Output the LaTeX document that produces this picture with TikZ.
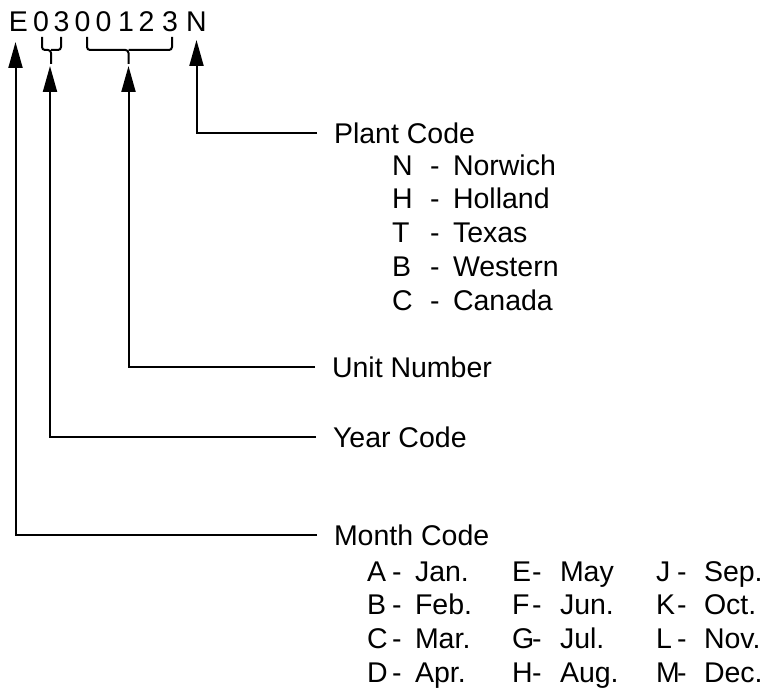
\documentclass[tikz,border=0pt]{standalone}
\usepackage{fontspec}
\setmainfont{Liberation Sans}
\usetikzlibrary{arrows.meta}
\begin{document}
\begin{tikzpicture}[x=1pt,y=-1pt,line width=2pt,
		every node/.style = {inner sep=0pt, font=\fontsize{28.5}{34}\selectfont},
		codechar/.style={font=\fontsize{28.5}{34}\selectfont, text height=20pt, text depth=0pt},
		fieldlabel/.style={anchor=west, inner xsep=16pt, text height=20pt, text depth=0pt},
		listitem/.style={anchor=base west},
		codearrow/.style={-{Triangle[length=26pt,width=14pt]}},
		codebrace/.style={rounded corners=3pt}]
		\useasboundingbox (0,0) rectangle (765,690);
		% the serial code
		\foreach \ch/\x [count=\i] in {E/18.5,0/41,3/61.5,0/82.5,0/103.5,1/126,2/146.5,3/170,N/196.5}
			\node[codechar] (c\i) at (\x,22) {\ch};
		\coordinate (yearend) at (51,64);
		\coordinate (unitend) at (128.5,64);
		\draw[codebrace] (42,37) |- (51,50) -- (yearend);
		\draw[codebrace] (61,37) |- (51,50);
		\draw[codebrace] (87,37) |- (128.5,50) -- (unitend);
		\draw[codebrace] (172,37) |- (128.5,50);
		% field labels
		\node[fieldlabel] (plant) at (317,133) {Plant Code};
		\node[fieldlabel] (unit) at (315,367) {Unit Number};
		\node[fieldlabel] (year) at (316,437) {Year Code};
		\node[fieldlabel] (month) at (317,535) {Month Code};
		\draw[codearrow] (plant.west) -| ([yshift=-7pt]c9.south);
		\draw[codearrow] (unit.west) -| ([yshift=-2pt]unitend);
		\draw[codearrow] (year.west) -| ([xshift=-1pt,yshift=-2pt]yearend);
		\draw[codearrow] (month.west) -| ([xshift=-3pt,yshift=-9pt]c1.south);
		% plant list
		\foreach \k/\name [count=\i from 0] in {N/Norwich,H/Holland,T/Texas,B/Western,C/Canada}{
			\node[listitem] (pk\i) at (391,{175+33.75*\i}) {\k};
			\node[listitem] (ph\i) at (429,{175+33.75*\i}) {-};
			\node[listitem] (pn\i) at (452,{175+33.75*\i}) {\name};
		}
		% month list
		\foreach \k/\name [count=\i from 0] in {A/Jan.,B/Feb.,C/Mar.,D/Apr.,E/May,F/Jun.,G/Jul.,H/Aug.,J/Sep.,K/Oct.,L/Nov.,M/Dec.}{
			\pgfmathtruncatemacro{\col}{int(\i/4)}
			\pgfmathtruncatemacro{\row}{mod(\i,4)}
			\pgfmathsetmacro{\lx}{{366,511,655}[\col]}
			\pgfmathsetmacro{\hx}{{391,531,676}[\col]}
			\node[listitem] (mk\i) at (\lx,{581+33.7*\row}) {\k};
			\node[listitem] (mh\i) at (\hx,{581+33.7*\row}) {-};
			\node[listitem] (mn\i) at ({\lx+48},{581+33.7*\row}) {\name};
		}
	\end{tikzpicture}
\end{document}
